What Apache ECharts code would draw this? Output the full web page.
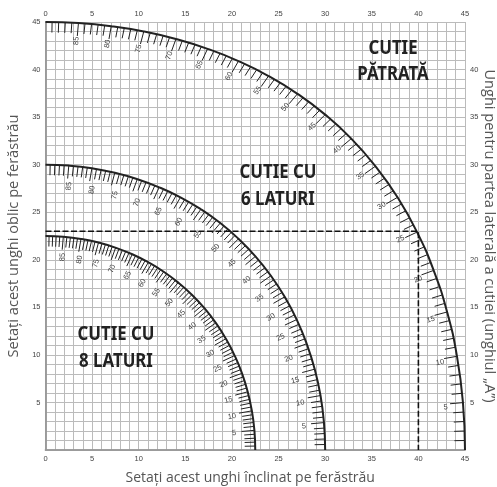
<!DOCTYPE html>
<html>
<head>
<meta charset="utf-8">
<style>
  html, body { margin: 0; padding: 0; background: #fff; }
  #chart { width: 497px; height: 487px; }
</style>
<script src="https://cdn.jsdelivr.net/npm/echarts@6/dist/echarts.min.js"></script>
</head>
<body>
<div id="chart"></div>
<script>
// curve points, one every 5 degrees of side angle (0 to 90)
const squareX = [45, 44.78, 44.14, 43.08, 41.64, 39.86, 37.76, 35.4, 32.8, 30, 27.03, 23.93, 20.7, 17.39, 13.99, 10.55, 7.05, 3.53, 0]
const squareY = [0, 4.98, 9.85, 14.51, 18.88, 22.91, 26.57, 29.83, 32.74, 35.26, 37.45, 39.32, 40.89, 42.18, 43.22, 44.01, 44.56, 44.89, 45]
const hexX = [30, 29.87, 29.5, 28.88, 28.02, 26.95, 25.66, 24.18, 22.52, 20.7, 18.75, 16.67, 14.48, 12.2, 9.85, 7.44, 4.98, 2.5, 0]
const hexY = [0, 2.88, 5.73, 8.5, 11.17, 13.71, 16.1, 18.32, 20.36, 22.21, 23.86, 25.31, 26.57, 27.62, 28.48, 29.15, 29.62, 29.9, 30]
const octX = [22.5, 22.41, 22.14, 21.69, 21.08, 20.29, 19.35, 18.27, 17.05, 15.7, 14.24, 12.68, 11.03, 9.31, 7.52, 5.68, 3.81, 1.91, 0]
const octY = [0, 2.07, 4.11, 6.12, 8.06, 9.93, 11.7, 13.36, 14.91, 16.33, 17.6, 18.74, 19.73, 20.58, 21.27, 21.81, 22.19, 22.42, 22.5]

// half of the corner angle of each box, and the degree marks along the curves
const boxHalfAngles = [45, 30, 22.5]
const tickDegrees = [1, 2, 3, 4, 5, 6, 7, 8, 9, 10, 11, 12, 13, 14, 15, 16, 17, 18, 19, 20, 21, 22, 23, 24, 25, 26, 27, 28, 29, 30, 31, 32, 33, 34, 35, 36, 37, 38, 39, 40, 41, 42, 43, 44, 45, 46, 47, 48, 49, 50, 51, 52, 53, 54, 55, 56, 57, 58, 59, 60, 61, 62, 63, 64, 65, 66, 67, 68, 69, 70, 71, 72, 73, 74, 75, 76, 77, 78, 79, 80, 81, 82, 83, 84, 85, 86, 87, 88, 89]
const labelDegrees = [5, 10, 15, 20, 25, 30, 35, 40, 45, 50, 55, 60, 65, 70, 75, 80, 85]

// example reading, dashed
const exampleX = [0, 40, 40]
const exampleY = [23, 23, 0]

const rad = Math.PI / 180
const deg = 180 / Math.PI

// compound mitre scale: side angle -> saw settings
function toSaw(a, half) {
  const x = Math.asin(Math.cos(a * rad) * Math.sin(half * rad)) * deg
  const y = Math.atan(Math.sin(a * rad) * Math.tan(half * rad)) * deg
  return [x, y]
}

const zip = (xs, ys) => xs.map((x, i) => [x, ys[i]])

const tickData = []
boxHalfAngles.forEach(h => tickDegrees.forEach(a => tickData.push([a, h])))
const labelData = []
boxHalfAngles.forEach(h => labelDegrees.forEach(a => labelData.push([a, h])))

function renderTick(params, api) {
  const a = api.value(0)
  const p = api.coord(toSaw(a, api.value(1)))
  const len = a % 5 === 0 ? 13 : 10.5
  return {
    type: 'line',
    shape: {
      x1: p[0],
      y1: p[1],
      x2: p[0] - len * Math.cos(a * rad),
      y2: p[1] + len * Math.sin(a * rad)
    },
    style: { stroke: '#222', lineWidth: 1 }
  }
}

// where the number sits relative to its curve, by eye from the reference
function labelPlace(a, h) {
  const s = Math.sin(2 * a * rad)
  if (h === 45) return { dir: a + (a < 25 ? 10 : -2), dist: 18 }
  if (h === 30) return { dir: a + 30 * s, dist: 19.5 + 6 * s }
  return { dir: a + 16 * s, dist: 20 + 2 * s }
}

function renderLabel(params, api) {
  const a = api.value(0)
  const h = api.value(1)
  const p = api.coord(toSaw(a, h))
  const place = labelPlace(a, h)
  return {
    type: 'text',
    x: p[0] - place.dist * Math.cos(place.dir * rad),
    y: p[1] + place.dist * Math.sin(place.dir * rad),
    rotation: a * rad,
    style: {
      text: String(a),
      fill: '#444',
      font: '7.5px "Liberation Sans"',
      align: 'center',
      verticalAlign: 'middle'
    }
  }
}

const curve = (xs, ys) => ({
  type: 'line',
  data: zip(xs, ys),
  smooth: true,
  showSymbol: false,
  symbol: 'none',
  z: 5,
  lineStyle: { color: '#222', width: 2 }
})

const gridLine = { color: '#bbb', width: 1 }
const edgeLine = { show: true, lineStyle: { color: '#999', width: 1.5 } }
const tickFont = { fontFamily: 'Liberation Sans', fontSize: 7.5, color: '#444' }
const titleFont = { fontFamily: 'Open Sans', fontSize: 14, color: '#555' }
const sideTitleFont = { fontFamily: 'Open Sans', fontSize: 14.6, color: '#555' }

const bigText = (text, x, y) => ({
  type: 'text',
  x: x,
  y: y,
  z: 10,
  scaleX: 0.84,
  originX: 0,
  originY: 0,
  style: {
    text: text,
    fill: '#222',
    font: 'bold 20px "Noto Sans"',
    align: 'center',
    verticalAlign: 'middle'
  }
})

const option = {
  animation: false,
  backgroundColor: '#fff',
  grid: { left: 45.5, right: 32, top: 22, bottom: 37, outerBoundsMode: 'none' },
  xAxis: [
    {
      type: 'value',
      position: 'bottom',
      min: 0,
      max: 45,
      interval: 5,
      name: 'Setați acest unghi înclinat pe ferăstrău',
      nameLocation: 'middle',
      nameGap: 21,
      nameTextStyle: Object.assign({ padding: [0, 10, 0, 0] }, titleFont),
      axisLine: edgeLine,
      axisTick: { show: false },
      axisLabel: Object.assign({ margin: 5 }, tickFont),
      splitLine: { show: true, lineStyle: gridLine },
      minorTick: { show: false, splitNumber: 5 },
      minorSplitLine: { show: true, lineStyle: gridLine }
    },
    {
      type: 'value',
      position: 'top',
      min: 0,
      max: 45,
      interval: 5,
      axisLine: edgeLine,
      axisTick: { show: false },
      axisLabel: Object.assign({ margin: 4 }, tickFont),
      splitLine: { show: false }
    }
  ],
  yAxis: [
    {
      type: 'value',
      position: 'left',
      min: 0,
      max: 45,
      interval: 5,
      name: 'Setați acest unghi oblic pe ferăstrău',
      nameLocation: 'middle',
      nameGap: 23,
      nameTextStyle: sideTitleFont,
      axisLine: edgeLine,
      axisTick: { show: false },
      axisLabel: Object.assign({ margin: 5, showMinLabel: false }, tickFont),
      splitLine: { show: true, lineStyle: gridLine },
      minorTick: { show: false, splitNumber: 5 },
      minorSplitLine: { show: true, lineStyle: gridLine }
    },
    {
      type: 'value',
      position: 'right',
      min: 0,
      max: 45,
      interval: 5,
      name: 'Unghi pentru partea laterală a cutiei (unghiul „A”)',
      nameLocation: 'middle',
      nameGap: 17,
      nameRotate: -90,
      nameMoveOverlap: false,
      nameTextStyle: sideTitleFont,
      axisLine: edgeLine,
      axisTick: { show: false },
      axisLabel: Object.assign({ margin: 5, showMinLabel: false, showMaxLabel: false }, tickFont),
      splitLine: { show: false }
    }
  ],
  series: [
    curve(squareX, squareY),
    curve(hexX, hexY),
    curve(octX, octY),
    {
      type: 'line',
      data: zip(exampleX, exampleY),
      showSymbol: false,
      symbol: 'none',
      z: 6,
      lineStyle: { color: '#111', width: 1.6, type: [6, 2.5] }
    },
    {
      type: 'custom',
      data: tickData,
      renderItem: renderTick,
      z: 4,
      silent: true
    },
    {
      type: 'custom',
      data: labelData,
      renderItem: renderLabel,
      z: 4,
      silent: true
    }
  ],
  graphic: [
    bigText('CUTIE', 393, 48),
    bigText('PĂTRATĂ', 393, 74),
    bigText('CUTIE CU', 278, 172),
    bigText('6 LATURI', 278, 199),
    bigText('CUTIE CU', 116, 334),
    bigText('8 LATURI', 116, 361)
  ]
}

const chart = echarts.init(document.getElementById('chart'))
chart.setOption(option)
</script>
</body>
</html>
